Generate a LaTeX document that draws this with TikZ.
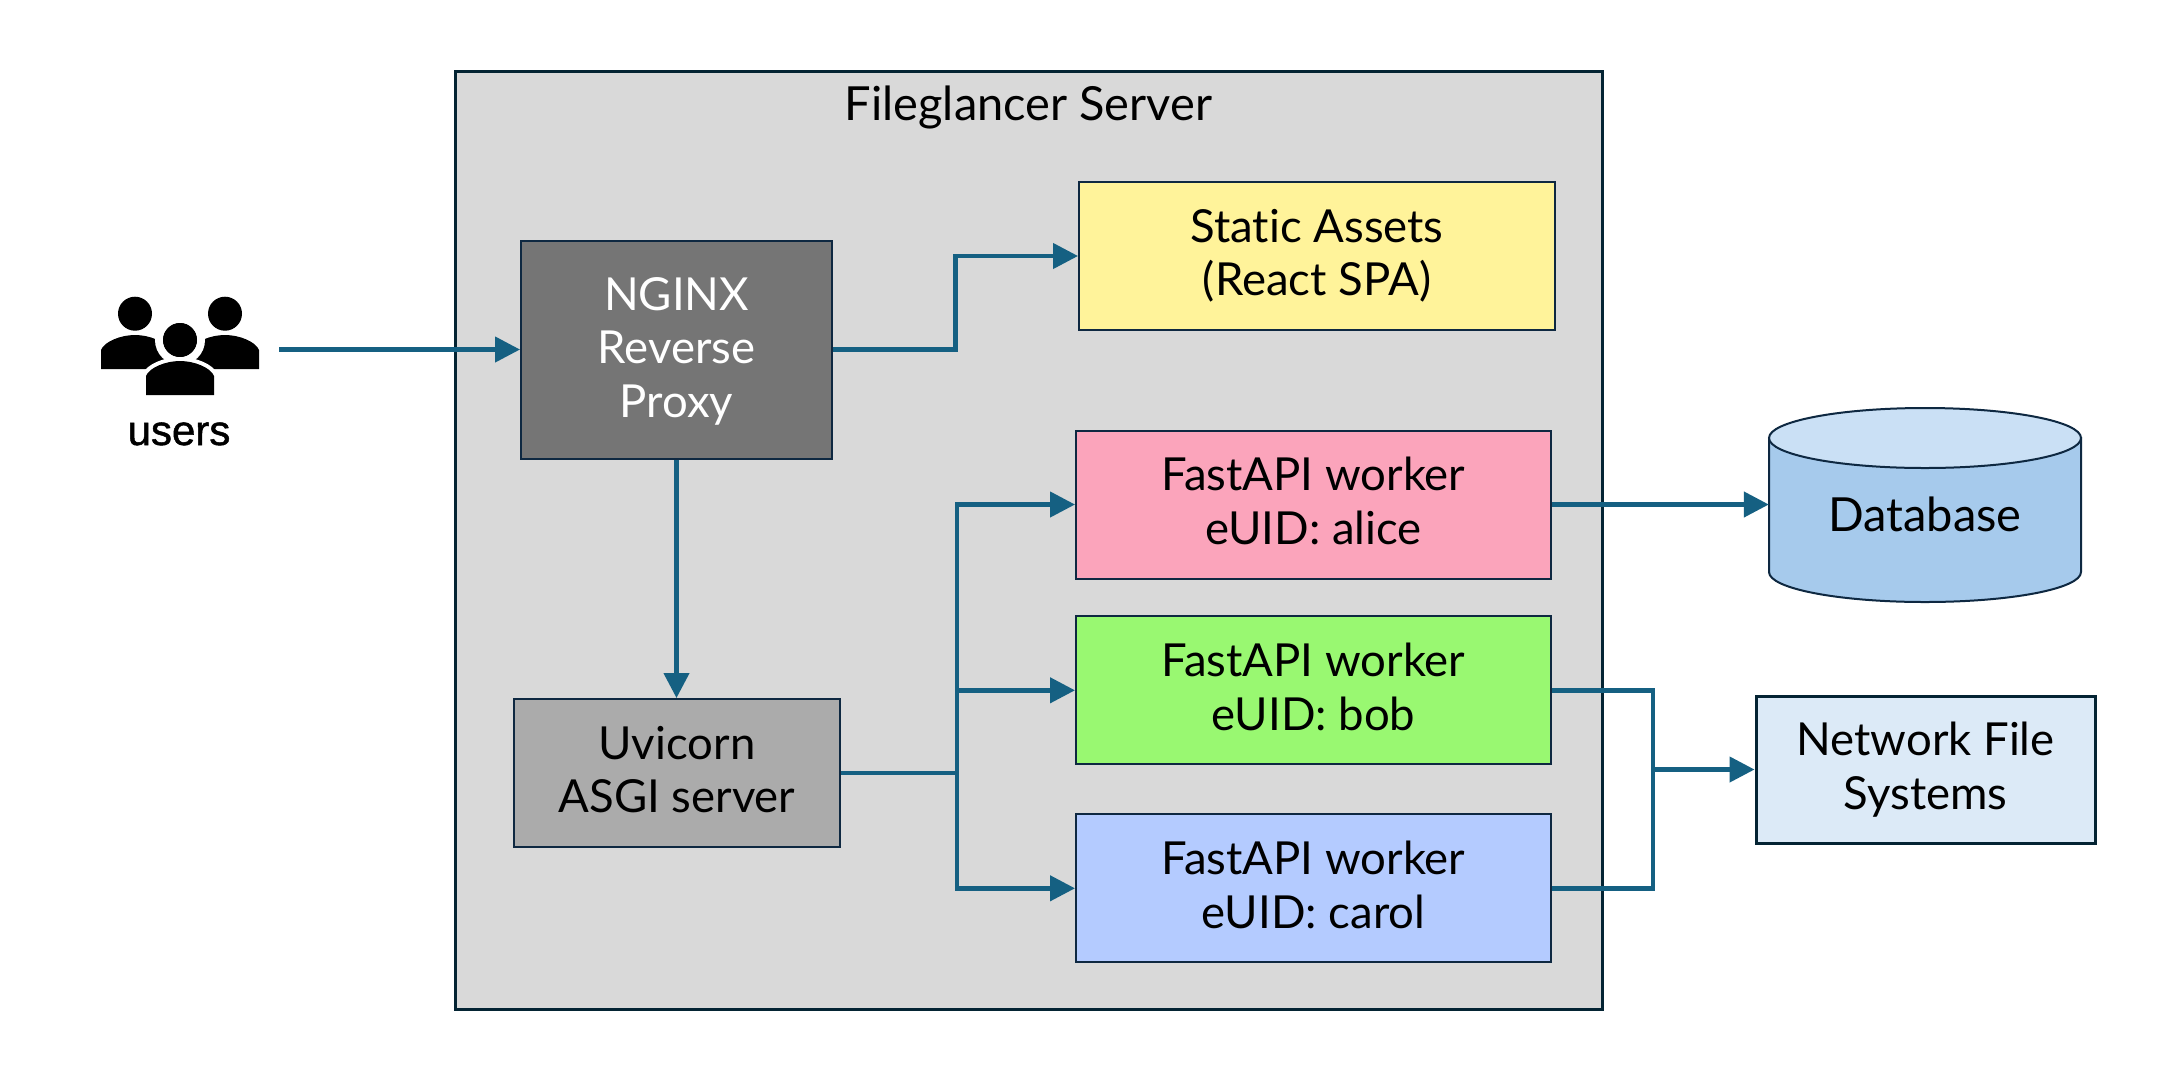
\documentclass[tikz,border=0pt]{standalone}
\usepackage{fontspec}
\setmainfont{Lato}[Ligatures=NoCommon]
\newfontfamily\usersfont[FakeBold=1.2]{Liberation Sans}
\usetikzlibrary{arrows.meta,calc}
\definecolor{edgec}{HTML}{0E2841}
\definecolor{serveredge}{HTML}{042433}
\definecolor{arrowc}{HTML}{156082}
\newcommand\firstln[1][38pt]{\rule{0pt}{#1}}
\newcommand\lastln{\rule[-12pt]{0pt}{12pt}}
\tikzset{
  boxfont/.style={font=\fontsize{45.5}{53.5}\selectfont},
  boxbase/.style={rectangle,draw=edgec,line width=2pt,inner sep=0pt,align=center,boxfont,text=black},
  wbox/.style={boxbase,minimum width=475pt,minimum height=148pt},
  conn/.style={draw=arrowc,line width=4.4pt},
  tipconn/.style={conn,-{Triangle[length=25pt,width=25pt]}},
}
\begin{document}
\begin{tikzpicture}[x=1pt,y=-1pt]
\useasboundingbox (0,0) rectangle (2160,1080);
\fill[white] (0,0) rectangle (2160,1080);
% server
\node[rectangle,draw=serveredge,line width=3pt,fill=black!15,minimum width=1147pt,minimum height=938pt,inner sep=0pt] (server) at (1028.5,540.5) {};
\node[font=\fontsize{47}{54}\selectfont,inner sep=0pt] (title) at (1028.5,107) {Fileglancer Server};
% boxes
\node[boxbase,fill=black!54,text=white,minimum width=311pt,minimum height=218pt] (nginx) at (676.5,349.5) {\firstln[40pt]NGINX\\Reverse\\Proxy\lastln};
\node[boxbase,fill=black!33,minimum width=326pt,minimum height=148pt] (uvicorn) at (677,773) {\firstln Uvicorn\\ASGI server\lastln};
\node[wbox,fill={rgb,255:red,255;green,243;blue,154},minimum width=476pt] (static) at (1317,256) {\firstln Static Assets\\(React SPA)\lastln};
\node[wbox,fill={rgb,255:red,251;green,164;blue,187}] (alice) at (1313.5,504.5) {\firstln FastAPI worker\\eUID: alice\lastln};
\node[wbox,fill={rgb,255:red,153;green,248;blue,113}] (bob) at (1313.5,690.3) {\firstln FastAPI worker\\eUID: bob\lastln};
\node[wbox,fill={rgb,255:red,180;green,203;blue,255}] (carol) at (1313.5,888.3) {\firstln FastAPI worker\\eUID: carol\lastln};
\node[boxbase,line width=3pt,draw=serveredge,fill={rgb,255:red,220;green,234;blue,247},minimum width=339pt,minimum height=147pt] (nfs) at (1925.5,769.5) {\firstln Network File\\Systems\lastln};
% database
\draw[draw=edgec,line width=2pt,fill={rgb,255:red,166;green,202;blue,236}]
  (1769,438) -- (1769,572) arc[start angle=180,end angle=360,x radius=156,y radius=-30] -- (2081,438) -- cycle;
\draw[draw=edgec,line width=2pt,fill={rgb,255:red,202;green,224;blue,245}]
  (1925,438) ellipse[x radius=156,y radius=30];
\node[rectangle,inner sep=0pt,minimum width=312pt,minimum height=194pt,boxfont] (db) at (1925,504.5) {};
\node[inner sep=0pt,font=\fontsize{47}{54}\selectfont] (dbtext) at (1925,514) {Database};
% users icon
\fill (135,313.7) circle[radius=17];
\fill (225,313.7) circle[radius=17];
\fill (101,369) -- (101,350) .. controls (104,342) and (120,335) .. (135,335) .. controls (150,335) and (166,342) .. (169,350) -- (169,369) -- cycle;
\fill (191,369) -- (191,350) .. controls (194,342) and (210,335) .. (225,335) .. controls (240,335) and (256,342) .. (259,350) -- (259,369) -- cycle;
\draw[white,line width=8pt,fill=black] (180,340) circle[radius=21];
\fill (180,340) circle[radius=17];
\draw[white,line width=8pt,fill=white] (146,395) -- (146,376) .. controls (149,368) and (165,361) .. (180,361) .. controls (195,361) and (211,368) .. (214,376) -- (214,395) -- cycle;
\fill (146,395) -- (146,376) .. controls (149,368) and (165,361) .. (180,361) .. controls (195,361) and (211,368) .. (214,376) -- (214,395) -- cycle;
\node[inner sep=0pt,font=\usersfont\fontsize{42}{42}\selectfont,anchor=base] (users) at (179,445) {users};
\coordinate (usersout) at (279,349.5);
\coordinate (split) at (957,773);
\coordinate (merge) at (1653,769.5);
% connectors
\draw[tipconn] (usersout) -- (nginx.west);
\draw[tipconn] (nginx.east) -- ($(nginx.east)!0.5!(static.west |- nginx.east)$) |- (static.west);
\draw[tipconn] (nginx.south) -- (nginx.south |- uvicorn.north);
\draw[conn] (uvicorn.east) -- (split);
\draw[tipconn] (split) |- (alice.west);
\draw[tipconn] (split) |- (bob.west);
\draw[tipconn] (split) |- (carol.west);
\draw[tipconn] (alice.east) -- (db.west);
\draw[conn] (bob.east) -| (merge);
\draw[conn] (carol.east) -| (merge);
\draw[tipconn] (merge) -- (nfs.west);
\end{tikzpicture}
\end{document}
